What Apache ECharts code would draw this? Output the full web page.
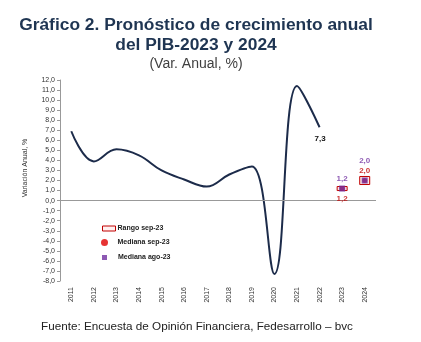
<!DOCTYPE html>
<html>
<head>
<meta charset="utf-8">
<script src="https://cdn.jsdelivr.net/npm/echarts@6/dist/echarts.min.js"></script>
<style>
  html, body { margin: 0; padding: 0; background: #fff; }
  #chart { width: 421px; height: 342px; }
</style>
</head>
<body>
<div id="chart"></div>
<script>
// Years on the category axis
const years = ['2011','2012','2013','2014','2015','2016','2017','2018','2019','2020','2021','2022','2023','2024'];
// Observed annual GDP growth (%), 2011-2022
const pibObservado = [6.9, 3.9, 5.1, 4.5, 3.0, 2.1, 1.4, 2.6, 3.4, -7.3, 11.4, 7.3, null, null];
// Survey medians for the forecast years
const medianaSep23 = [null, null, null, null, null, null, null, null, null, null, null, null, 1.2, 2.0];
const medianaAgo23 = [null, null, null, null, null, null, null, null, null, null, null, null, 1.2, 2.0];
// Range of answers (low, high) in the September survey
const rangoSep23 = [[12, 1.0, 1.4], [13, 1.6, 2.4]];
// Y axis bounds
const yMin = -8, yMax = 12;

const fmt = v => v.toFixed(1).replace('.', ',');
const FONT = '"Liberation Sans", Arial, sans-serif';
const RED = '#c00000', PURPLE = '#7030a0', NAVY = '#1c2b4a';
const legendText = { fontSize: 7, fontWeight: 'bold', color: '#222' };

const chart = echarts.init(document.getElementById('chart'));
chart.setOption({
  animation: false,
  textStyle: { fontFamily: FONT },
  title: [
    { text: 'Gráfico 2. Pronóstico de crecimiento anual\ndel PIB-2023 y 2024', left: 191, textAlign: 'center', top: 10,
      textStyle: { fontSize: 17.4, fontWeight: 'bold', color: '#1f3552', lineHeight: 20, fontFamily: FONT } },
    { text: '(Var. Anual, %)', left: 191, textAlign: 'center', top: 52,
      textStyle: { fontSize: 14, fontWeight: 'normal', color: '#404040', fontFamily: FONT } },
    { text: 'Fuente: Encuesta de Opinión Financiera, Fedesarrollo – bvc', left: 36, top: 316,
      textStyle: { fontSize: 11.7, fontWeight: 'normal', color: '#222', fontFamily: FONT } }
  ],
  legend: [
    { data: [{ name: 'Rango sep-23', icon: 'rect', itemStyle: { color: '#fff0f0', borderColor: RED, borderWidth: 1 } }],
      left: 102, top: 225, padding: 0, itemWidth: 13, itemHeight: 5,
      textStyle: Object.assign({ padding: [0, 0, 0, -3] }, legendText) },
    { data: [{ name: 'Mediana sep-23', icon: 'circle' }],
      left: 101, top: 239, padding: 0, itemWidth: 8, itemHeight: 7,
      textStyle: Object.assign({ padding: [0, 0, 0, 4] }, legendText) },
    { data: [{ name: 'Mediana ago-23', icon: 'rect' }],
      left: 102, top: 254, padding: 0, itemWidth: 5, itemHeight: 5,
      textStyle: Object.assign({ padding: [0, 0, 0, 6] }, legendText) }
  ],
  graphic: [
    { type: 'text', x: 25, y: 168, rotation: Math.PI / 2, origin: [0, 0],
      style: { text: 'Variación Anual, %', fontSize: 7, fill: '#333', fontFamily: FONT,
               textAlign: 'center', textVerticalAlign: 'middle' } }
  ],
  grid: { left: 60, right: 45, top: 80, bottom: 61 },
  xAxis: {
    type: 'category', data: years, boundaryGap: true,
    axisLine: { show: false, onZero: false }, axisTick: { show: false },
    axisLabel: { rotate: 90, fontSize: 7, color: '#333', margin: 6 }
  },
  yAxis: {
    type: 'value', min: yMin, max: yMax, interval: 1,
    splitLine: { show: false },
    axisLine: { show: true, lineStyle: { color: '#999' } },
    axisTick: { show: true, length: 3, lineStyle: { color: '#999' } },
    axisLabel: { fontSize: 7, color: '#333', margin: 5, formatter: fmt }
  },
  series: [
    {
      name: 'PIB', type: 'line', data: pibObservado, smooth: 0.4, showSymbol: false, symbol: 'none',
      lineStyle: { color: NAVY, width: 2 }, connectNulls: false, z: 3,
      endLabel: { show: true, formatter: p => fmt(p.value), fontSize: 8, fontWeight: 'bold', color: '#111',
                  offset: [-13, 12] },
      markLine: { silent: true, symbol: 'none', label: { show: false },
                  lineStyle: { color: '#999', width: 1, type: 'solid' }, data: [{ yAxis: 0 }] }
    },
    {
      name: 'Rango sep-23', type: 'custom', z: 4,
      data: rangoSep23,
      encode: { x: 0, y: [1, 2] },
      renderItem: (params, api) => {
        const lo = api.coord([api.value(0), api.value(1)]);
        const hi = api.coord([api.value(0), api.value(2)]);
        const w = 10;
        return { type: 'rect', shape: { x: lo[0] - w / 2, y: hi[1], width: w, height: lo[1] - hi[1] },
                 style: { fill: '#fbe4e4', stroke: RED, lineWidth: 1 } };
      },
      itemStyle: { color: RED }
    },
    {
      name: 'Mediana sep-23', type: 'scatter', symbol: 'circle', symbolSize: 5, z: 5,
      itemStyle: { color: '#e00000' },
      data: medianaSep23.map((v, i) => v == null ? null : {
        value: v,
        label: { show: true, formatter: p => fmt(p.value), color: RED, fontSize: 8, fontWeight: 'bold',
                 position: i === 12 ? 'bottom' : 'top', distance: i === 12 ? 4 : 3 }
      })
    },
    {
      name: 'Mediana ago-23', type: 'scatter', symbol: 'rect', symbolSize: 6, z: 6,
      itemStyle: { color: PURPLE },
      data: medianaAgo23.map((v, i) => v == null ? null : {
        value: v,
        label: { show: true, formatter: p => fmt(p.value), color: PURPLE, fontSize: 8, fontWeight: 'bold',
                 position: 'top', distance: i === 12 ? 3 : 13 }
      })
    }
  ]
});
</script>
</body>
</html>
